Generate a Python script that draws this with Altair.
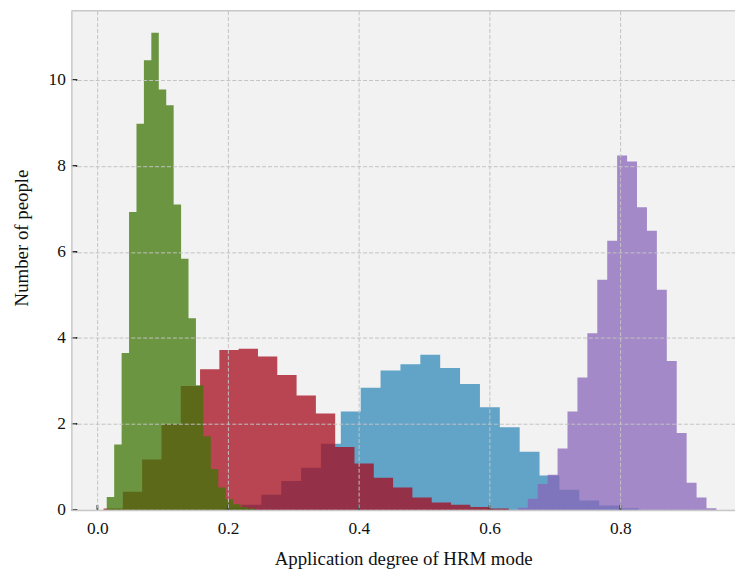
import altair as alt
import pandas as pd

# ---- data (density histograms, stepfilled) ----
series_names = ["blue", "red", "purple", "green"]

blue_start, blue_width = 0.190, 0.0304
blue_heights = [0.05, 0.12, 0.35, 0.67, 0.98, 1.54, 2.29, 2.84, 3.24, 3.39, 3.61,
                3.30, 2.93, 2.39, 1.92, 1.35, 0.80, 0.47, 0.22, 0.10, 0.04]

red_start, red_width = 0.0094, 0.02953
red_heights = [0.03, 0.42, 1.17, 2.00, 2.88, 3.27, 3.72, 3.75, 3.57, 3.14, 2.66,
               2.24, 1.46, 1.08, 0.75, 0.52, 0.29, 0.17, 0.12, 0.07, 0.03]

purple_start, purple_width = 0.6432, 0.01519
purple_heights = [0.05, 0.26, 0.60, 0.82, 1.43, 2.29, 3.08, 4.11, 5.35, 6.26,
                  8.24, 8.10, 7.04, 6.49, 5.12, 3.46, 1.79, 0.63, 0.29, 0.04]

green_start, green_width = 0.0143, 0.01137
green_heights = [0.30, 1.52, 3.65, 6.93, 8.98, 10.46, 11.10, 9.78, 9.41, 7.10,
                 5.84, 4.46, 2.90, 1.71, 0.95, 0.52, 0.25, 0.13, 0.07, 0.03]

x_ticks = [0.0, 0.2, 0.4, 0.6, 0.8]
y_ticks = [0, 2, 4, 6, 8, 10]

x_title = "Application degree of HRM mode"
y_title = "Number of people"

# ---- styling ----
W, H = 670, 504
FONT = "Liberation Serif"
colors = {"blue": "#3289ba", "red": "#a50a1c", "purple": "#8965ba", "green": "#3e7605"}
frame_color = "#c8c8c8"
grid_color = "#c2c2c2"

x_scale = alt.Scale(domain=[-0.0398, 0.9754], nice=False, zero=False)
y_scale = alt.Scale(domain=[0, 11.61], nice=False, zero=False)

x_axis = alt.Axis(values=x_ticks, format=".1f", title=x_title, grid=True,
                  gridDash=[4, 2], gridColor=grid_color, gridWidth=1,
                  ticks=False, domain=True, domainColor=frame_color, domainWidth=1.5,
                  labelFont=FONT, labelFontSize=17.5, labelColor="#111", labelPadding=10,
                  titleFont=FONT, titleFontSize=19, titleFontWeight="normal",
                  titleColor="#111", titlePadding=13, zindex=1)
y_axis = alt.Axis(values=y_ticks, format="d", title=y_title, grid=True,
                  gridDash=[4, 2], gridColor=grid_color, gridWidth=1,
                  ticks=False, domain=True, domainColor=frame_color, domainWidth=1.5,
                  labelFont=FONT, labelFontSize=17.5, labelColor="#111", labelPadding=6,
                  titleFont=FONT, titleFontSize=19, titleFontWeight="normal",
                  titleColor="#111", titlePadding=17, titleY=229, zindex=1)


def step_frame(start, width, heights):
    xs = [start + i * width for i in range(len(heights) + 1)]
    ys = list(heights) + [heights[-1]]
    return pd.DataFrame({"x": xs, "y": ys})


frames = {
    "blue": step_frame(blue_start, blue_width, blue_heights),
    "red": step_frame(red_start, red_width, red_heights),
    "purple": step_frame(purple_start, purple_width, purple_heights),
    "green": step_frame(green_start, green_width, green_heights),
}

layers = []
for name in series_names:
    layers.append(
        alt.Chart(frames[name]).mark_area(
            interpolate="step-after", color=colors[name], opacity=0.75
        ).encode(
            x=alt.X("x:Q", scale=x_scale, axis=x_axis),
            y=alt.Y("y:Q", scale=y_scale, axis=y_axis),
        )
    )

# inward tick marks
x_tick_layer = alt.Chart(pd.DataFrame({"x": x_ticks})).mark_rule(
    color="#2a2a2a", strokeWidth=1.8
).encode(
    x=alt.X("x:Q", scale=x_scale, axis=x_axis),
    y=alt.value(H - 5), y2=alt.value(H),
)
y_tick_layer = alt.Chart(pd.DataFrame({"y": y_ticks})).mark_rule(
    color="#2a2a2a", strokeWidth=1.8
).encode(
    y=alt.Y("y:Q", scale=y_scale, axis=y_axis),
    x=alt.value(0), x2=alt.value(6),
)
top_border = alt.Chart(pd.DataFrame({"a": [0]})).mark_rule(
    color=frame_color, strokeWidth=1.5
).encode(x=alt.value(0), x2=alt.value(W), y=alt.value(0))

chart = alt.layer(*layers, x_tick_layer, y_tick_layer, top_border).properties(
    width=W, height=H,
    autosize=alt.AutoSizeParams(type="none"),
    padding={"left": 64, "top": 0, "right": 0, "bottom": 62},
    background="white",
).configure_view(stroke=None, fill="#f2f2f2")

chart.save("out.html", embed_options={"renderer": "svg", "actions": False})
